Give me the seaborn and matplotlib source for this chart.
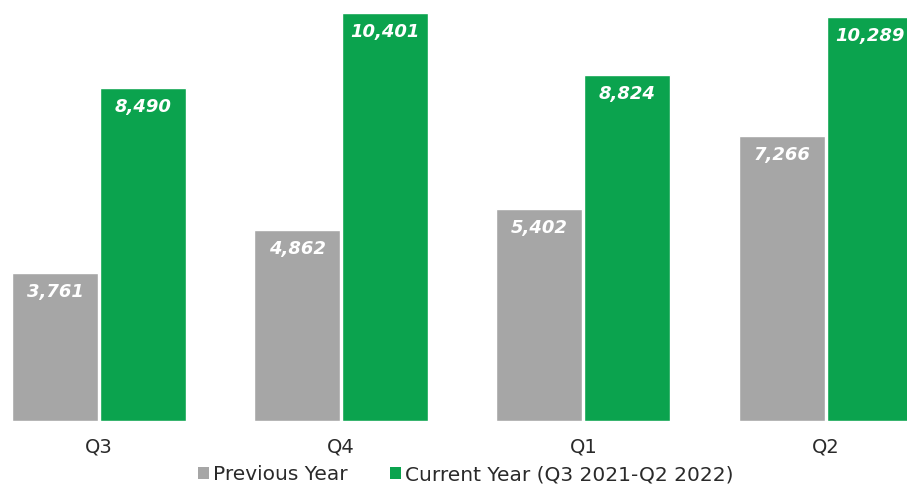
import matplotlib
matplotlib.use("Agg")
import matplotlib.pyplot as plt
import seaborn as sns
import pandas as pd
from matplotlib.patches import Patch

quarters = ["Q3", "Q4", "Q1", "Q2"]
previous_year = [3761, 4862, 5402, 7266]
current_year = [8490, 10401, 8824, 10289]
series_names = ["Previous Year", "Current Year (Q3 2021-Q2 2022)"]
colors = ["#a6a6a6", "#0ba34e"]

df = pd.DataFrame({
    "Quarter": quarters * 2,
    "Value": previous_year + current_year,
    "Series": [series_names[0]] * 4 + [series_names[1]] * 4,
})

sns.set_theme(style="white")
plt.rcParams["font.family"] = ["DejaVu Sans"]

fig = plt.figure(figsize=(9.07, 4.87), dpi=100)
ax = fig.add_axes([0, 66 / 487, 1, 421 / 487])

sns.barplot(data=df, x="Quarter", y="Value", hue="Series", order=quarters,
            hue_order=series_names, palette=colors, width=0.727, gap=0.023,
            saturation=1, ax=ax, legend=False)

ax.set_xlim(-0.409, 3.336)
ax.set_ylim(0, 10732)
for s in ax.spines.values():
    s.set_visible(False)
ax.set_yticks([])
ax.set_xlabel("")
ax.set_ylabel("")
ax.tick_params(axis="x", length=0, pad=12, labelsize=14, colors="#2a2a2a")

for cont in ax.containers:
    for bar in cont:
        h = bar.get_height()
        ax.annotate(f"{int(h):,}", (bar.get_x() + bar.get_width() / 2, h),
                    xytext=(0, -19), textcoords="offset pixels",
                    ha="center", va="center", color="white",
                    fontsize=13, fontweight="bold", fontstyle="italic")

handles = [Patch(facecolor=c, edgecolor="none") for c in colors]
fig.legend(handles, series_names, loc="center", bbox_to_anchor=(466 / 907, 1 - 475 / 487),
           ncol=2, frameon=False, fontsize=14.5, handlelength=0.55, handleheight=0.55,
           handletextpad=0.2, columnspacing=2.1, labelcolor="#2a2a2a")

fig.savefig("out.png", dpi=100)
